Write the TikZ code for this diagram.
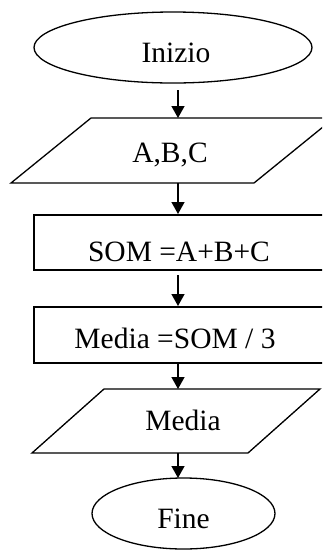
\documentclass[tikz,border=0pt]{standalone}
\usepackage{fontspec}
\setmainfont{Liberation Serif}
\usetikzlibrary{shapes.geometric,arrows.meta}
\begin{document}
\begin{tikzpicture}[x=1pt,y=-1pt,
  shp/.style={draw=black,line width=1.3pt,line join=miter},
  lbl/.style={anchor=base,inner sep=0pt,font=\fontsize{29.5}{34}\selectfont},
  arr/.style={line width=1.3pt,-{Triangle[width=13pt,length=12pt]}}]
\useasboundingbox (0,0) rectangle (322,550);
\clip (0,0) rectangle (322,550);
% start
\node[shp,ellipse,minimum width=278pt,minimum height=71pt,inner sep=0pt] (inizio) at (173,47.5) {};
\node[lbl] (tinizio) at (176,62) {Inizio};
% input A,B,C
\draw[shp] (11,183) -- (91,118) -- (334,118) -- (254,183) -- cycle;
\node[lbl] (tabc) at (170,162) {A,B,C};
% SOM
\draw[shp] (34,215) rectangle (340,270);
\node[lbl] (tsom) at (179,261) {SOM =A+B+C};
% Media =SOM/3
\draw[shp] (34,307) rectangle (340,363);
\node[lbl] (tmed) at (175,348) {Media =SOM / 3};
% output Media
\draw[shp] (32,453) -- (104,389) -- (320,389) -- (248,453) -- cycle;
\node[lbl] (tout) at (183,430) {Media};
% end
\node[shp,ellipse,minimum width=183pt,minimum height=71pt,inner sep=0pt] (fine) at (183.5,513.5) {};
\node[lbl] (tfine) at (183.5,528) {Fine};
% connector endpoints
\coordinate (s1) at (178,90);  \coordinate (e1) at (178,118);
\coordinate (s2) at (178,183); \coordinate (e2) at (178,214);
\coordinate (s3) at (178,275); \coordinate (e3) at (178,306);
\coordinate (s4) at (178,363); \coordinate (e4) at (178,389);
\coordinate (s5) at (178,453); \coordinate (e5) at (178,478);
\draw[arr] (s1) -- (e1);
\draw[arr] (s2) -- (e2);
\draw[arr] (s3) -- (e3);
\draw[arr] (s4) -- (e4);
\draw[arr] (s5) -- (e5);
\end{tikzpicture}
\end{document}
